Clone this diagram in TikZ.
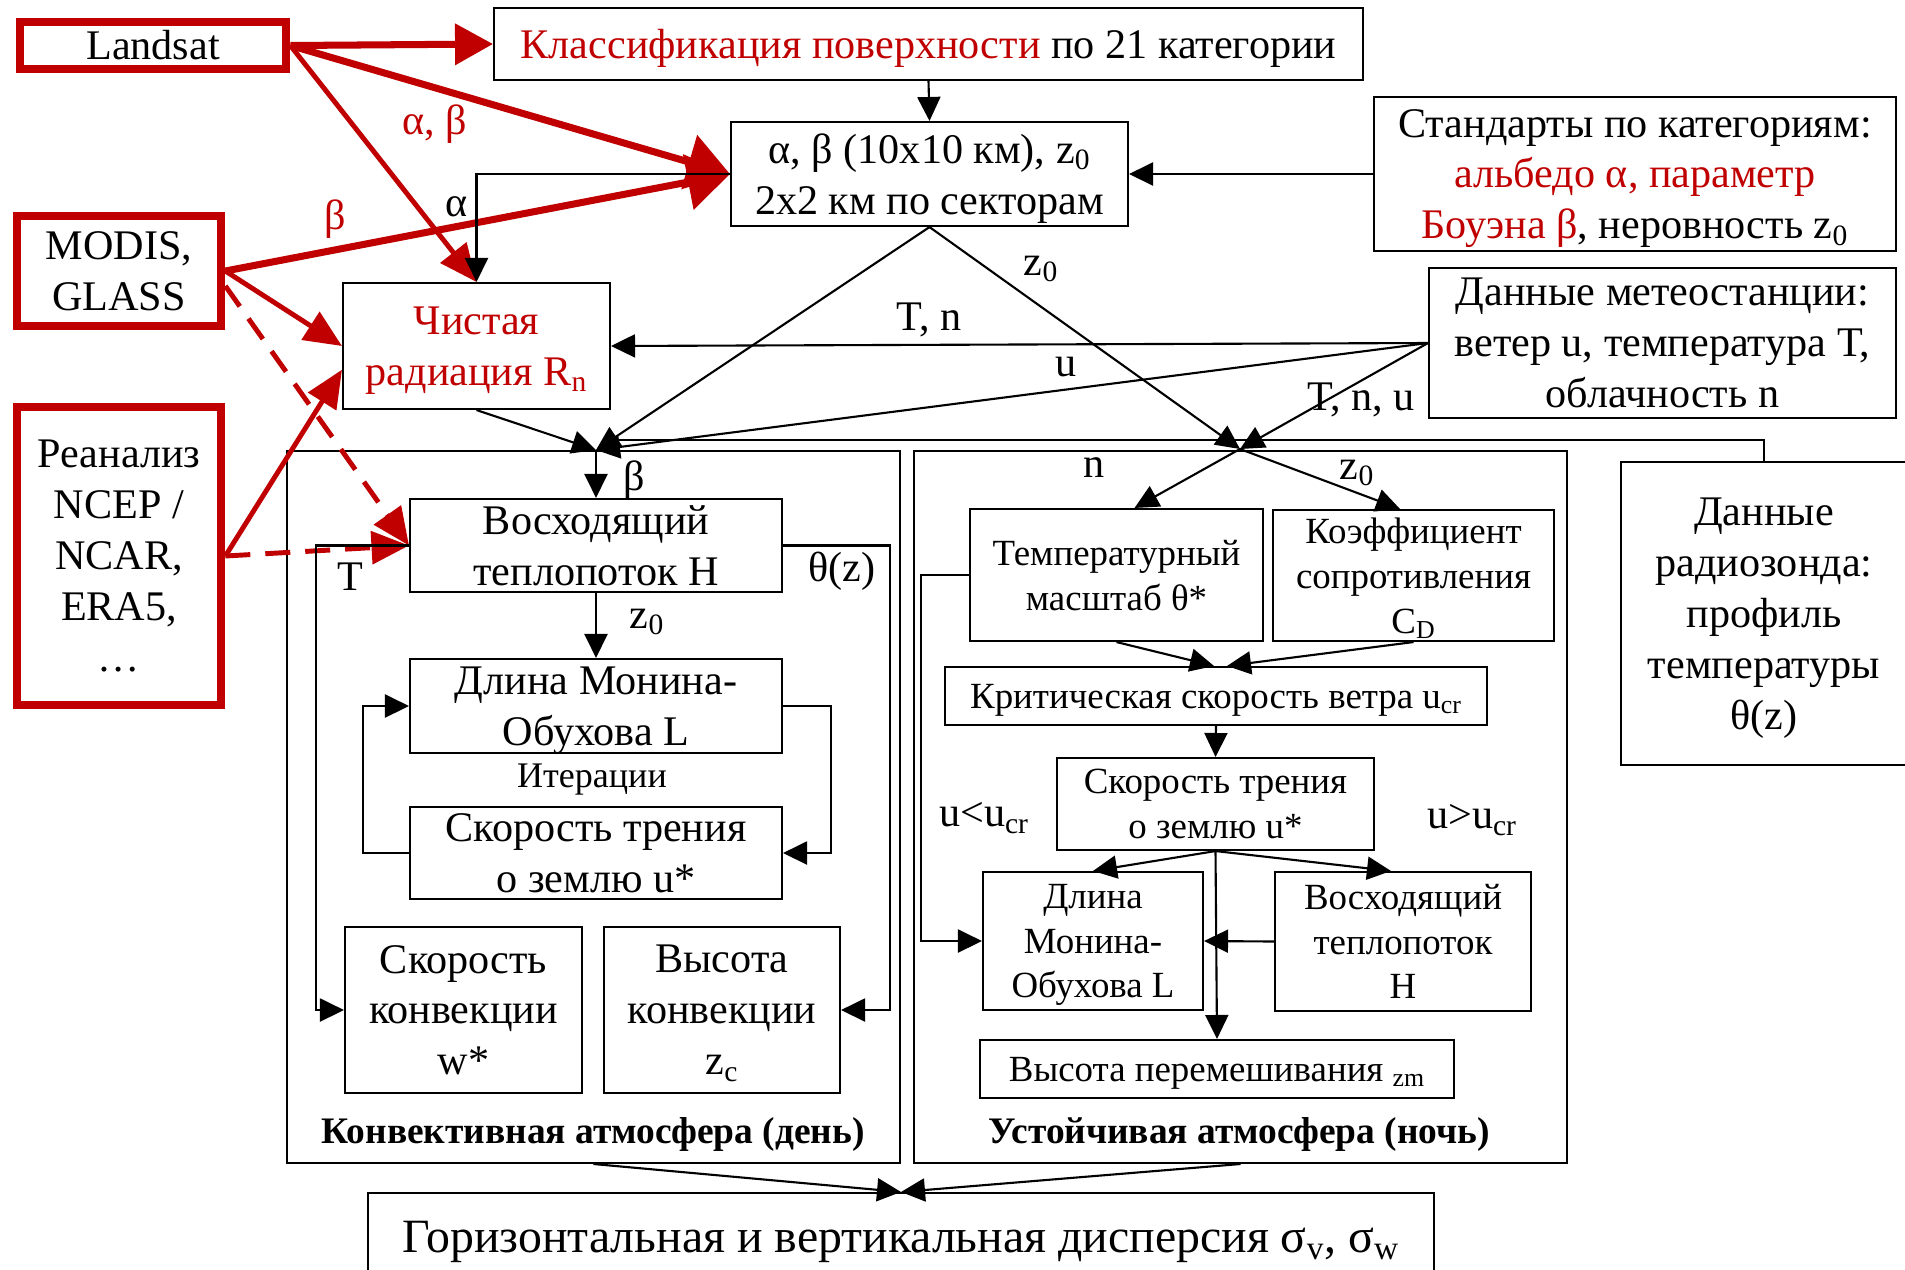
\documentclass[tikz,border=0pt]{standalone}
\usepackage{fontspec}
\setmainfont{Liberation Serif}
\usepackage{xcolor}
\usetikzlibrary{arrows.meta,calc}
\definecolor{dred}{HTML}{C00000}
\tikzset{
  bx/.style={draw, line width=1.2pt, align=center, inner sep=1pt, text depth=-1pt, font=\fontsize{24}{29}\selectfont},
  sbx/.style={bx, font=\fontsize{21}{25.5}\selectfont},
  rbx/.style={draw=dred, line width=5pt, align=center, inner sep=1pt, font=\fontsize{24}{29}\selectfont},
  areabox/.style={draw, line width=1.2pt},
  lbl/.style={inner sep=0pt, font=\fontsize{24}{29}\selectfont},
  slbl/.style={inner sep=0pt, font=\fontsize{20.5}{24.5}\selectfont},
  blbl/.style={inner sep=0pt, font=\fontsize{21.3}{25}\selectfont\bfseries},
  ar/.style={line width=1.2pt, -{Triangle[length=0.48cm,width=0.46cm]}},
  rar/.style={color=dred, line width=2.8pt, -{Triangle[length=0.75cm,width=0.65cm]}},
  rarb/.style={color=dred, line width=4pt, -{Triangle[length=0.85cm,width=1.1cm]}},
  rdash/.style={rar, dash pattern=on 0.5cm off 0.3cm}
}
\begin{document}
\begin{tikzpicture}[x=0.02cm,y=-0.02cm]
\useasboundingbox (0,0) rectangle (1905,1269);
\node[areabox,minimum width=12.26cm,minimum height=14.24cm] (day) at (593.5,807) {};
\node[areabox,minimum width=13.06cm,minimum height=14.24cm] (night) at (1240.5,807) {};
\node[rbx,minimum width=5.32cm,minimum height=0.94cm] (landsat) at (153,45.5) {Landsat};
\node[bx,minimum width=17.38cm,minimum height=1.44cm] (cls) at (928.5,44) {\textcolor{dred}{Классификация поверхности} по 21 категории};
\node[bx,minimum width=7.94cm,minimum height=2.08cm] (ab) at (929.5,174) {α, β (10x10 км), z\textsubscript{0}\\2x2 км по секторам};
\node[bx,minimum width=10.44cm,minimum height=3.08cm] (std) at (1635,174) {Стандарты по категориям:\\\textcolor{dred}{альбедо α, параметр}\\\textcolor{dred}{Боуэна β}, неровность z\textsubscript{0}};
\node[rbx,minimum width=4.08cm,minimum height=2.2cm] (modis) at (119,271) {MODIS,\\GLASS};
\node[bx,text=dred,minimum width=5.34cm,minimum height=2.52cm] (rn) at (476.5,346) {Чистая\\радиация R\textsubscript{n}};
\node[bx,text depth=0pt,minimum width=9.34cm,minimum height=3cm] (met) at (1662.5,343) {Данные метеостанции:\\ветер u, температура T,\\облачность n};
\node[rbx,minimum width=4.08cm,minimum height=5.96cm] (rean) at (119,556) {Реанализ\\NCEP /\\NCAR,\\ERA5,\\…};
\node[bx,minimum width=5.72cm,minimum height=6.06cm] (rs) at (1764,613.5) {Данные\\радиозонда:\\профиль\\температуры\\θ(z)};
\node[bx,minimum width=7.44cm,minimum height=1.86cm] (dH) at (596,545.5) {Восходящий\\теплопоток H};
\node[bx,minimum width=7.44cm,minimum height=1.88cm] (dL) at (596,706) {Длина Монина-\\Обухова L};
\node[bx,minimum width=7.44cm,minimum height=1.84cm] (du) at (596,853) {Скорость трения\\о землю u*};
\node[bx,minimum width=4.74cm,minimum height=3.32cm] (dw) at (463.5,1010) {Скорость\\конвекции\\w*};
\node[bx,minimum width=4.72cm,minimum height=3.32cm] (dz) at (722,1010) {Высота\\конвекции\\z\textsubscript{c}};
\node[sbx,minimum width=5.86cm,minimum height=2.64cm] (nT) at (1116.5,575) {Температурный\\масштаб θ*};
\node[sbx,minimum width=5.62cm,minimum height=2.62cm] (nC) at (1413.5,575.5) {Коэффициент\\сопротивления\\C\textsubscript{D}};
\node[sbx,minimum width=10.84cm,minimum height=1.16cm] (ncr) at (1216,696) {Критическая скорость ветра u\textsubscript{cr}};
\node[sbx,minimum width=6.34cm,minimum height=1.84cm] (nu) at (1215.5,804) {Скорость трения\\о землю u*};
\node[sbx,minimum width=4.4cm,minimum height=2.76cm] (nL) at (1093,941) {Длина\\Монина-\\Обухова L};
\node[sbx,minimum width=5.12cm,minimum height=2.78cm] (nH) at (1403,941.5) {Восходящий\\теплопоток\\H};
\node[sbx,minimum width=9.48cm,minimum height=1.16cm] (nzm) at (1217,1069) {Высота перемешивания \textsubscript{zm}};
\node[bx,text depth=2.5pt,font=\fontsize{27.2}{32}\selectfont,minimum width=21.32cm,minimum height=1.84cm] (fin) at (901,1239) {Горизонтальная и вертикальная дисперсия σ\textsubscript{v}, σ\textsubscript{w}};
\node[blbl] (daylbl) at (593,1134) {Конвективная атмосфера (день)};
\node[blbl] (nightlbl) at (1239,1134) {Устойчивая атмосфера (ночь)};
\coordinate (dj) at (596,450);
\coordinate (nj) at (1240,449);
\coordinate (rsend) at (612,440);
\draw[rarb,-{Triangle[length=0.76cm,width=0.8cm]}] (landsat.east) -- (cls.west);
\draw[rarb] (landsat.east) -- (ab.west);
\draw[rarb] (modis.east) -- (ab.west);
\draw[rar] (landsat.east) -- (rn.north);
\draw[ar] (ab.west) -| (rn.north);
\draw[rar] (modis.east) -- (rn.west);
\draw[rar] (rean.east) -- (rn.190);
\draw[rdash] (modis.-8) -- (dH.west);
\draw[rdash] (rean.east) -- (dH.west);
\draw[ar] (cls.south) -- (ab.north);
\draw[ar] (std.west) -- (ab.east);
\draw[ar] (rn.south) -- (dj);
\draw[ar] (ab.south) -- (dj);
\draw[ar] (ab.south) -- (nj);
\draw[ar] (met.west) -- (rn.east);
\draw[ar] (met.west) -- (dj);
\draw[ar] (met.west) -- (nj);
\draw[line width=1.2pt] (rs.north) |- (rsend);
\draw[ar] (dj) -- (dH.north);
\draw[ar] (dH.south) -- (dL.north);
\draw[ar] (du.west) -- ++(-46,0) |- (dL.west);
\draw[ar] (dL.east) -- ++(48,0) |- (du.east);
\draw[ar] (dH.west) -- ++(-93,0) |- (dw.west);
\draw[ar] (dH.east) -- ++(107,0) |- (dz.east);
\draw[ar] (nj) -- ([xshift=0.36cm]nT.north);
\draw[ar] (nj) -- ([xshift=-0.27cm]nC.north);
\draw[ar] (nT.south) -- ([xshift=-0.04cm]ncr.north);
\draw[ar] (nC.south) -- ([xshift=0.22cm]ncr.north);
\draw[ar] (ncr.south) -- (nu.north);
\draw[ar] (nu.south) -- (nL.north);
\draw[ar] (nu.south) -- ([xshift=-0.24cm]nH.north);
\draw[ar] (nu.south) -- (nzm.north);
\draw[ar] (nH.west) -- (nL.east);
\draw[ar] (nT.west) -- ++(-48,0) |- (nL.west);
\draw[ar] (day.south) -- (fin.north);
\draw[ar] (night.south) -- (fin.north);
\node[lbl,text=dred] (lab1) at (435,124) {α, β};
\node[lbl,text=dred] (lab2) at (335,219) {β};
\node[lbl] (lab3) at (457,207) {α};
\node[lbl] (lab4) at (929,320) {T, n};
\node[lbl] (lab5) at (1041,269) {z\textsubscript{0}};
\node[lbl] (lab6) at (1066,367) {u};
\node[lbl] (lab7) at (1361,400) {T, n, u};
\node[lbl] (lab8) at (634,480) {β};
\node[lbl] (lab9) at (1094,468) {n};
\node[lbl] (lab10) at (1357,473) {z\textsubscript{0}};
\node[lbl] (lab11) at (350,577) {T};
\node[lbl] (lab12) at (842,571) {θ(z)};
\node[lbl] (lab13) at (647,622) {z\textsubscript{0}};
\node[slbl] (lab14) at (592,780) {Итерации};
\node[lbl] (lab15) at (984,818) {u<u\textsubscript{cr}};
\node[lbl] (lab16) at (1472,820) {u>u\textsubscript{cr}};
\end{tikzpicture}
\end{document}
